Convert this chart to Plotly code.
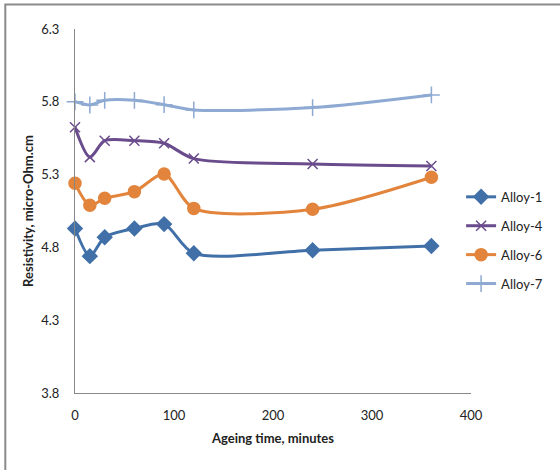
import plotly.graph_objects as go

time_min = [0, 15, 30, 60, 90, 120, 240, 360]
alloy1 = [4.93, 4.74, 4.87, 4.93, 4.96, 4.76, 4.78, 4.81]
alloy4 = [5.625, 5.42, 5.533, 5.533, 5.515, 5.41, 5.373, 5.359]
alloy6 = [5.24, 5.09, 5.137, 5.183, 5.304, 5.068, 5.062, 5.282]
alloy7 = [5.80, 5.778, 5.81, 5.81, 5.78, 5.744, 5.76, 5.847]

series_names = ["Alloy-1", "Alloy-4", "Alloy-6", "Alloy-7"]
series_vals = [alloy1, alloy4, alloy6, alloy7]
colors = ["#4170A8", "#6A4C8C", "#E2843C", "#8EA9D2"]
symbols = ["diamond", "x-thin-open", "circle", "cross-thin-open"]
msizes = [11, 10, 12, 12]

fig = go.Figure()
for i, (n, v) in enumerate(zip(series_names, series_vals)):
    fig.add_trace(go.Scatter(
        x=time_min, y=v, name=n, mode="lines+markers",
        line=dict(color=colors[i], width=3, shape="spline", smoothing=0.8),
        marker=dict(symbol=symbols[i], size=msizes[i], color=colors[i],
                    line=dict(color=colors[i], width=1.5)),
        cliponaxis=False, legendgroup=n,
    ))

fig.update_layout(
    width=560, height=470,
    margin=dict(l=75, r=89, t=29, b=77, autoexpand=False),
    paper_bgcolor="white", plot_bgcolor="white",
    font=dict(family="Lato, Open Sans, sans-serif", size=13, color="#222"),
    showlegend=True,
    legend=dict(x=0.975, xanchor="left", y=0.58, yanchor="top",
                font=dict(size=13), tracegroupgap=9, bgcolor="rgba(0,0,0,0)",
                itemwidth=30),
    xaxis=dict(range=[0, 400], tick0=0, dtick=100, showgrid=False, zeroline=False,
               showline=True, linecolor="#888", linewidth=1, ticks="",
               ticklabelstandoff=10, automargin=False,
               title=dict(text="<b>Ageing time, minutes</b>", font=dict(size=13), standoff=12)),
    yaxis=dict(range=[3.8, 6.3], tick0=3.8, dtick=0.5, tickformat=".1f", showgrid=False,
               zeroline=False, showline=True, linecolor="#888", linewidth=1, ticks="",
               ticklabelstandoff=12, automargin=False),
    annotations=[dict(text="<b>Resistivity, micro-Ohm.cm</b>", xref="paper", yref="paper",
                      x=-0.119, y=0.5, textangle=-90, showarrow=False,
                      xanchor="center", yanchor="middle", font=dict(size=13))],
    shapes=[dict(type="rect", xref="paper", yref="paper", x0=-0.176, x1=1.3, y0=-0.3, y1=1.067,
                 line=dict(color="#8A8A8A", width=2), fillcolor="rgba(0,0,0,0)", layer="below")],
)

fig.write_html("out.html", config={"displayModeBar": False},
               post_script="document.body.style.margin='0';")
